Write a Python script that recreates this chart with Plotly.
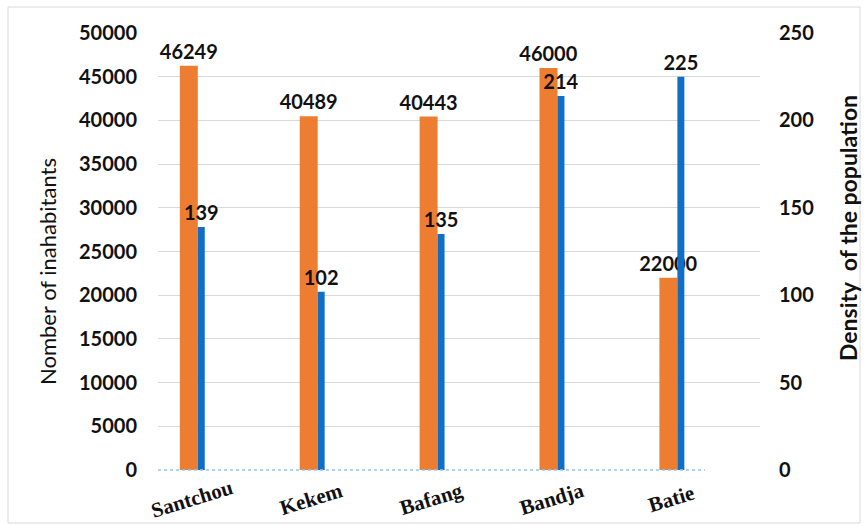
import plotly.graph_objects as go

towns = ["Santchou", "Kekem", "Bafang", "Bandja", "Batie"]
inhabitants = [46249, 40489, 40443, 46000, 22000]
density = [139, 102, 135, 214, 225]
left_ticks = list(range(0, 50001, 5000))
right_ticks = list(range(0, 251, 50))

ORANGE = "#ED7D31"
BLUE = "#0F6FC6"
TXT = "#111111"
LABEL_FONT = dict(family="Lato", size=20, color=TXT, weight="bold")

fig = go.Figure()
fig.add_trace(go.Bar(
    x=towns, y=inhabitants, yaxis="y", name="Number of inhabitants",
    marker=dict(color=ORANGE, line=dict(width=0)),
    width=0.15, offset=-0.075,
    text=[str(v) for v in inhabitants], textposition="outside",
    textfont=LABEL_FONT, cliponaxis=False, constraintext="none",
))
fig.add_trace(go.Bar(
    x=towns, y=density, yaxis="y2", name="Density of the population",
    marker=dict(color=BLUE, line=dict(width=0)),
    width=0.058, offset=0.075,
    text=[str(v) for v in density], textposition="outside",
    textfont=LABEL_FONT, cliponaxis=False, constraintext="none",
))

PL, PR, PT, PB = 158, 760, 33, 470
def px_x(p):
    return (p - PL) / (PR - PL)
def px_y(p):
    return (PB - p) / (PB - PT)

annotations = [
    dict(x=t, xref="x", y=0, yref="paper", yshift=-29, xshift=3,
         text=t, showarrow=False, textangle=-17,
         font=dict(family="Liberation Serif", size=21, color=TXT, weight="bold"),
         xanchor="center", yanchor="middle")
    for t in towns
]
annotations.append(dict(
    x=px_x(47), xref="paper", y=px_y(272), yref="paper",
    text="Nomber of inahabitants", showarrow=False, textangle=-90,
    font=dict(family="Lato", size=22, color=TXT),
    xanchor="center", yanchor="middle",
))
annotations.append(dict(
    x=px_x(848), xref="paper", y=px_y(228), yref="paper",
    text="Density  of the population", showarrow=False, textangle=-90,
    font=dict(family="Lato", size=23, color=TXT, weight="bold"),
    xanchor="center", yanchor="middle",
))

fig.update_layout(
    width=868, height=526,
    margin=dict(l=PL, r=868 - PR, t=PT, b=526 - PB),
    paper_bgcolor="white", plot_bgcolor="white",
    barmode="overlay", showlegend=False,
    font=dict(family="Lato", color=TXT),
    xaxis=dict(
        type="category", range=[-0.257, 4.764],
        showticklabels=False, ticks="", showgrid=False, zeroline=False, showline=False,
    ),
    yaxis=dict(
        range=[0, 50000], tickvals=left_ticks, ticktext=[str(v) for v in left_ticks],
        showgrid=True, gridcolor="#d9d9d9", gridwidth=1, zeroline=False, showline=False,
        tickfont=dict(family="Lato", size=20, color=TXT, weight="bold"),
        ticklabelstandoff=20,
    ),
    yaxis2=dict(
        range=[0, 250], tickvals=right_ticks, ticktext=[str(v) for v in right_ticks],
        overlaying="y", side="right", showgrid=False, zeroline=False, showline=False,
        tickfont=dict(family="Lato", size=20, color=TXT, weight="bold"),
        ticklabelstandoff=18,
    ),
    annotations=annotations,
    shapes=[
        dict(type="rect", xref="paper", yref="paper", x0=px_x(8), x1=px_x(860), y0=px_y(523), y1=px_y(7),
             line=dict(color="#d9d9d9", width=1), fillcolor="rgba(0,0,0,0)", layer="below"),
        dict(type="line", xref="paper", yref="paper", x0=0, x1=px_x(705), y0=0, y1=0,
             line=dict(color="#9DC3E6", width=1.5, dash="dot"), layer="above"),
    ],
)

fig.write_html("out.html")
